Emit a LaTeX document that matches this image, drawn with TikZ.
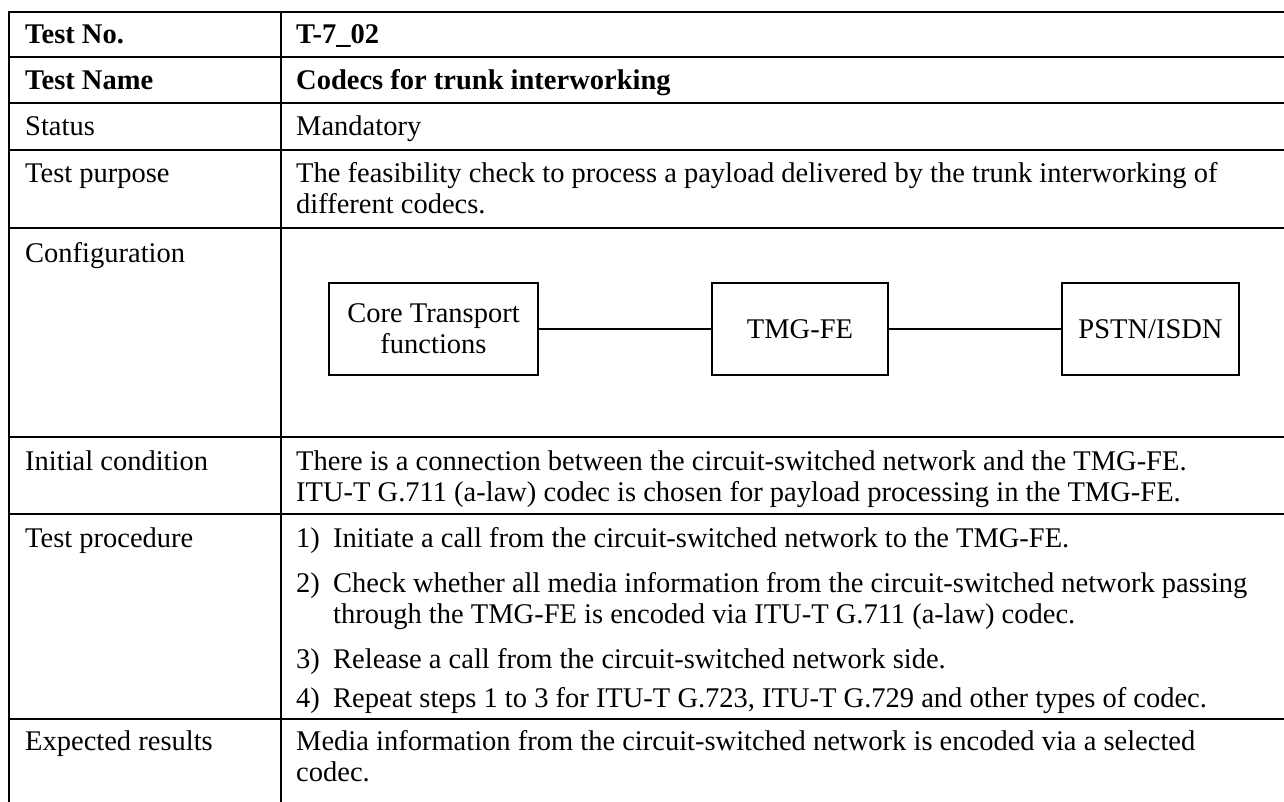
\documentclass[tikz,border=0pt]{standalone}
\usepackage{fontspec}
\setmainfont{Liberation Serif}
\usepackage{tikz}

\begin{document}
\begin{tikzpicture}[x=1pt,y=-1pt,
        every node/.style={inner sep=0pt,font=\fontsize{28.5}{31}\selectfont},
        cell/.style={anchor=base west,align=left},
        unit/.style={draw,line width=1.6pt,minimum height=92pt,align=center},
        rule/.style={line width=2pt}]
                \useasboundingbox (0,0) rectangle (1284,802);
                % table rules
                \draw [rule] (9,802) -- (9,12) -- (1284,12);
                \draw [rule] (281,12) -- (281,802);
                \foreach \y in {57,103,150,228,437,514,719}
                    \draw [rule] (9,\y) -- (1284,\y);
                % left column
                \node [cell] (nno) at (25,44) {\bfseries Test No.};
                \node [cell] (nname) at (25,90) {\bfseries Test Name};
                \node [cell] (nstat) at (25,136) {Status};
                \node [cell] (npurp) at (25,183) {Test purpose};
                \node [cell] (nconf) at (25,262) {Configuration};
                \node [cell] (ninit) at (25,470) {Initial condition};
                \node [cell] (nproc) at (25,547) {Test procedure};
                \node [cell] (nexp) at (25,750) {Expected results};
                % right column (multi-line cells sit on their last baseline)
                \node [cell] (vno) at (296,44) {\bfseries T-7\_02};
                \node [cell] (vname) at (296,90) {\bfseries Codecs for trunk interworking};
                \node [cell] (vstat) at (296,136) {Mandatory};
                \node [cell] (vpurp) at (296,214) {The feasibility check to process a payload delivered by the trunk interworking of\\different codecs.};
                \node [cell] (vinit) at (296,501) {There is a connection between the circuit-switched network and the TMG-FE.\\ITU-T G.711 (a-law) codec is chosen for payload processing in the TMG-FE.};
                \node [cell] (s1) at (296,547) {1)};
                \node [cell] (t1) at (333,547) {Initiate a call from the circuit-switched network to the TMG-FE.};
                \node [cell] (s2) at (296,592) {2)};
                \node [cell] (t2) at (333,623) {Check whether all media information from the circuit-switched network passing\\through the TMG-FE is encoded via ITU-T G.711 (a-law) codec.};
                \node [cell] (s3) at (296,668) {3)};
                \node [cell] (t3) at (333,668) {Release a call from the circuit-switched network side.};
                \node [cell] (s4) at (296,707) {4)};
                \node [cell] (t4) at (333,707) {Repeat steps 1 to 3 for ITU-T G.723, ITU-T G.729 and other types of codec.};
                \node [cell] (vexp) at (296,781) {Media information from the circuit-switched network is encoded via a selected\\codec.};
                % configuration
                \node [unit,minimum width=209pt] (core) at (433.5,329) {Core Transport\\functions};
                \node [unit,minimum width=176pt] (tmg) at (800,329) {TMG-FE};
                \node [unit,minimum width=177pt] (pstn) at (1150.5,329) {PSTN/ISDN};
                \draw [line width=1.6pt] (core) -- (tmg);
                \draw [line width=1.6pt] (tmg) -- (pstn);
            \end{tikzpicture}
\end{document}
